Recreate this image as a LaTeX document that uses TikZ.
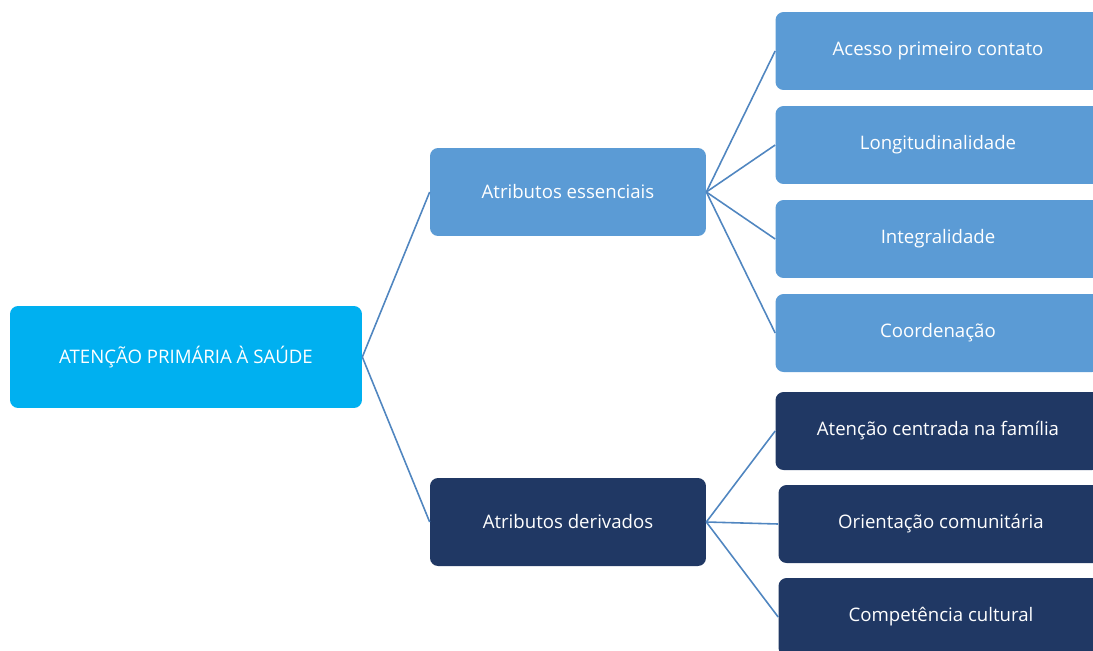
\documentclass[tikz,border=0pt]{standalone}
\usepackage{fontspec}
\setmainfont{Open Sans}
\definecolor{rootblue}{RGB}{0,176,240}
\definecolor{lightblue}{RGB}{91,155,213}
\definecolor{darkblue}{RGB}{32,56,100}
\definecolor{linkblue}{RGB}{80,134,192}
\tikzset{
  box/.style={rectangle, rounded corners=0.16cm, inner sep=0pt,
    text=white, font=\fontsize{10.6}{12}\selectfont},
  rootbox/.style={box, fill=rootblue, minimum width=7.04cm, minimum height=2.04cm},
  midbox/.style={box, minimum width=5.52cm, minimum height=1.76cm},
  leafbox/.style={box, minimum width=6.5cm, minimum height=1.56cm},
  link/.style={draw=linkblue, line width=0.9pt}
}
\begin{document}
\begin{tikzpicture}[x=0.02cm, y=-0.02cm]
  \useasboundingbox (0, 0) rectangle (1093, 650);
  \clip (0, 0) rectangle (1093, 650);

  % root
  \node[rootbox] (root) at (186, 357) {ATENÇÃO PRIMÁRIA À SAÚDE};

  % attribute groups
  \node[midbox, fill=lightblue] (ess) at (568, 192) {Atributos essenciais};
  \node[midbox, fill=darkblue] (der) at (568, 522) {Atributos derivados};

  % essential attributes
  \node[leafbox, fill=lightblue] (acesso) at (938, 51) {Acesso primeiro contato};
  \node[leafbox, fill=lightblue] (longi) at (938, 145) {Longitudinalidade};
  \node[leafbox, fill=lightblue] (integ) at (938, 239) {Integralidade};
  \node[leafbox, fill=lightblue] (coord) at (938, 333) {Coordenação};

  % derived attributes
  \node[leafbox, fill=darkblue] (fam) at (938, 431) {Atenção centrada na família};
  \node[leafbox, fill=darkblue] (comun) at (941, 524) {Orientação comunitária};
  \node[leafbox, fill=darkblue] (cult) at (941, 617) {Competência cultural};

  % links
  \draw[link] (root.east) -- (ess.west);
  \draw[link] (root.east) -- (der.west);
  \foreach \leaf in {acesso, longi, integ, coord}
    \draw[link] (ess.east) -- (\leaf.west);
  \foreach \leaf in {fam, comun, cult}
    \draw[link] (der.east) -- (\leaf.west);
\end{tikzpicture}
\end{document}
